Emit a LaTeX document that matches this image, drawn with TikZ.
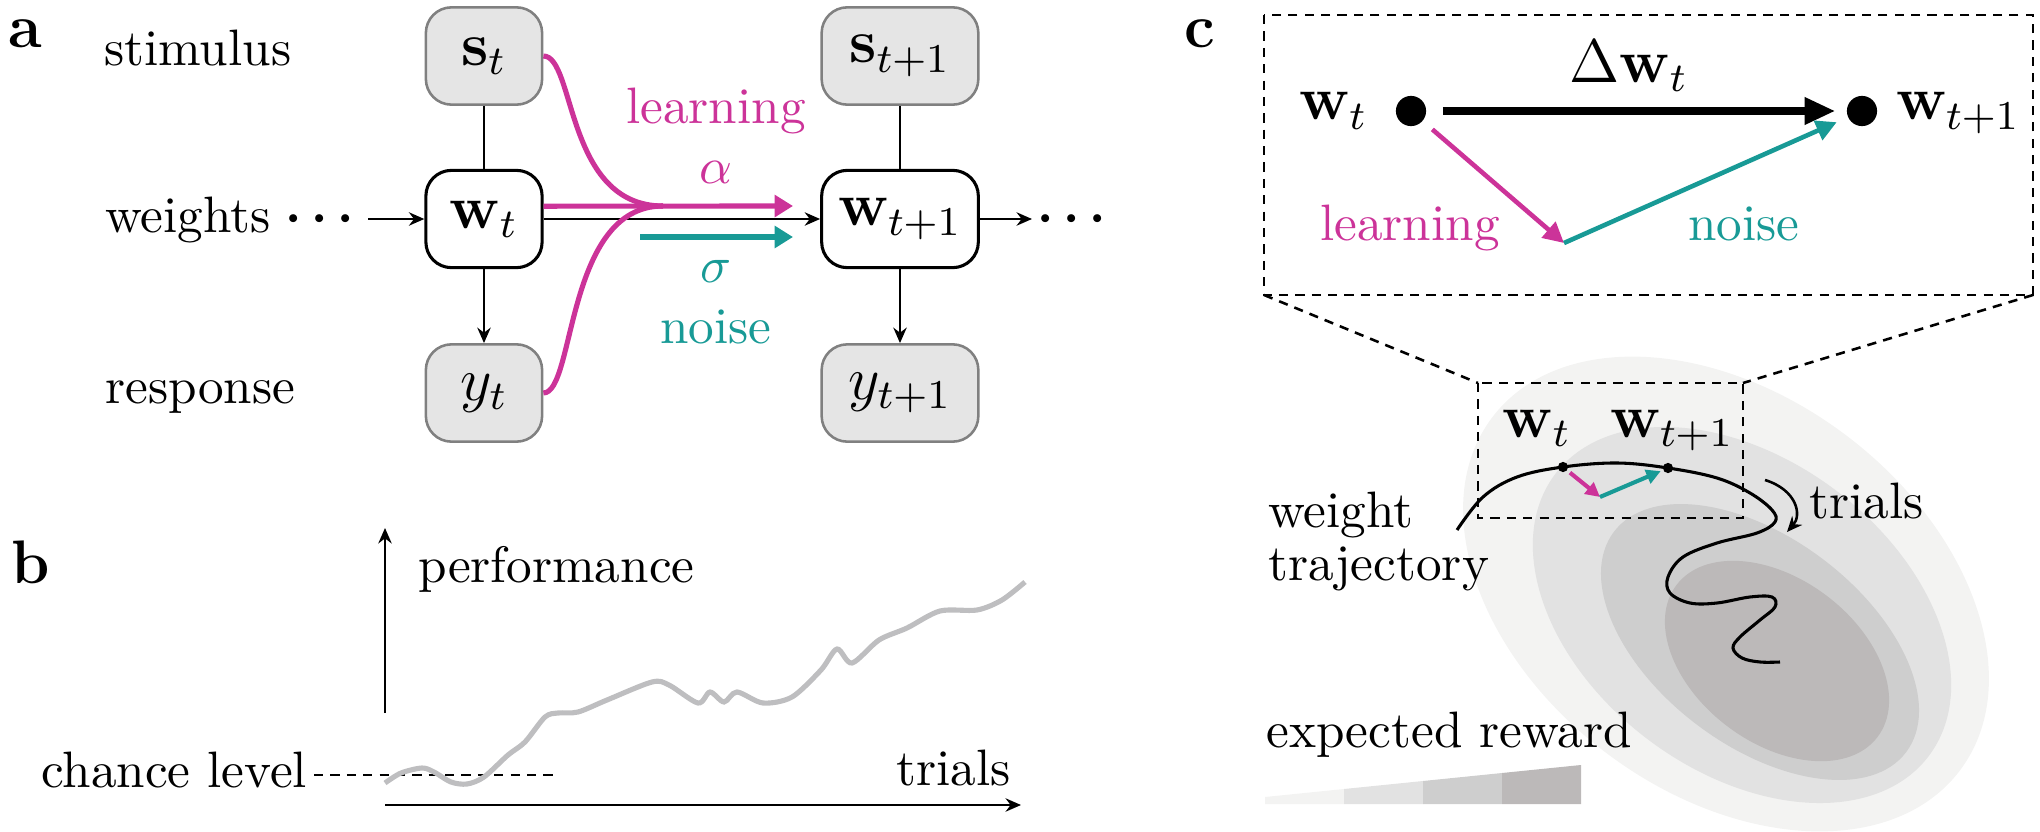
\documentclass[tikz,border=0pt]{standalone}
\usetikzlibrary{arrows.meta,positioning}

\definecolor{learnpink}{RGB}{204,51,153}
\definecolor{noiseteal}{RGB}{24,154,150}
\definecolor{rewardA}{RGB}{243,243,242}
\definecolor{rewardB}{RGB}{226,226,226}
\definecolor{rewardC}{RGB}{206,206,206}
\definecolor{rewardD}{RGB}{188,185,185}
\definecolor{perfgray}{RGB}{190,190,192}

\tikzset{
  panel/.style={font=\large\bfseries, anchor=base west, inner sep=0pt},
  txt/.style={anchor=base west, inner sep=0pt},
  obsbox/.style={draw=black!50, fill=black!10, rounded corners=5pt, minimum height=19pt, inner sep=0pt, font=\large},
  wbox/.style={obsbox, draw=black, fill=white, line width=0.6pt},
  learnline/.style={draw=learnpink, line width=1pt},
  learnarrow/.style={learnline, -{Triangle[length=3.6pt,width=4.2pt]}},
  noisearrow/.style={draw=noiseteal, line width=1pt, -{Triangle[length=3.6pt,width=4.2pt]}},
  boxline/.style={dash pattern=on 1.8pt off 1.4pt, line width=0.5pt},
  bigdot/.style={circle, fill=black, minimum size=5.9pt, inner sep=0pt},
  smalldot/.style={circle, fill=black, minimum size=2pt, inner sep=0pt},
  dotsnode/.style={font=\boldmath},
}

\begin{document}
\begin{tikzpicture}[x=0.1953pt, y=-0.1953pt, line width=0.5pt, >={Stealth[length=3pt,width=2.6pt]}]
    \useasboundingbox (0,0) rectangle (2040,832);

    % a: model
    \node[panel] (la) at (7,47) {a};
    \node[txt] (stim) at (103,65) {stimulus};
    \node[txt] (wlab) at (104,232) {weights};
    \node[dotsnode] (ldots) at (320,219) {$\cdots$};
    \node[txt] (resp) at (104,403) {response};

    \node[obsbox, minimum width=22.7pt] (st) at (484,56) {$\mathbf{s}_t$};
    \node[wbox, minimum width=22.7pt] (wt) at (484,219) {$\mathbf{w}_t$};
    \node[obsbox, minimum width=22.7pt] (yt) at (484,393) {$y_t$};
    \node[obsbox, minimum width=30.6pt] (st1) at (900,56) {$\mathbf{s}_{t+1}$};
    \node[wbox, minimum width=30.6pt] (wt1) at (900,219) {$\mathbf{w}_{t+1}$};
    \node[obsbox, minimum width=30.6pt] (yt1) at (900,393) {$y_{t+1}$};
    \node[dotsnode] (rdots) at (1072,219) {$\cdots$};

    \coordinate (win) at (368,219);
    \coordinate (wout) at (1032,219);
    \draw[->] (win) -- (wt);
    \draw (st) -- (wt);
    \draw[->] (wt) -- (yt);
    \draw (st1) -- (wt1);
    \draw[->] (wt1) -- (yt1);
    \draw[->] (wt) -- (wt1);
    \draw[->] (wt1) -- (wout);

    \coordinate (merge) at (663,206);
    \coordinate (lend) at (793,206);
    \coordinate (nstart) at (640,237);
    \coordinate (nend) at (793,237);
    \draw[learnline] (st.east) .. controls +(32,0) and (565,206) .. (merge);
    \draw[learnline] (yt.east) .. controls +(32,0) and (565,206) .. (merge);
    \draw[learnarrow] ([yshift=2.5pt]wt.east) -- (lend);
    \draw[noisearrow] (nstart) -- (nend);
    \node[text=learnpink, anchor=base] (llearn) at (716,123) {learning};
    \node[text=learnpink] (lalpha) at (716,172) {$\alpha$};
    \node[text=noiseteal] (lsigma) at (716,271) {$\sigma$};
    \node[text=noiseteal, anchor=base] (lnoise) at (716,343) {noise};

    % b: performance
    \node[panel] (lb) at (10,583) {b};
    \coordinate (ylo) at (385,713);
    \coordinate (yhi) at (385,528);
    \coordinate (xlo) at (385,805);
    \coordinate (xhi) at (1021,805);
    \draw[->] (ylo) -- (yhi);
    \draw[->] (xlo) -- (xhi);
    \node[txt] (perf) at (417,582) {performance};
    \node[txt] (trialsb) at (895,785) {trials};
    \node[txt] (chance) at (40,787) {chance level};
    \coordinate (chlo) at (314,775);
    \coordinate (chhi) at (554,775);
    \draw[boxline] (chlo) -- (chhi);
    \draw[perfgray, line width=1pt] plot[smooth, tension=0.5] coordinates {
      (385,783) (401,773) (422,768) (434,772) (451,782) (467,784) (484,777)
      (508,755) (525,742) (545,717) (558,713) (578,712) (607,700) (652,682)
      (669,685) (698,703) (710,692) (724,702) (737,692) (763,703) (792,697)
      (821,670) (837,649) (852,663) (879,640) (907,628) (940,611) (977,610)
      (1002,600) (1025,582)};

    % c: weight space
    \fill[rewardA, rotate around={-37:(1726,594)}] (1726,594) ellipse [x radius=293, y radius=199];
    \fill[rewardB, rotate around={-37:(1742,615)}] (1742,615) ellipse [x radius=234, y radius=156];
    \fill[rewardC, rotate around={-37:(1760,642)}] (1760,642) ellipse [x radius=183, y radius=104];
    \fill[rewardD, rotate around={-37:(1777,661)}] (1777,661) ellipse [x radius=126, y radius=82];

    \node[panel] (lc) at (1183,47) {c};
    \coordinate (bignw) at (1264,15);
    \coordinate (bigsw) at (1264,295);
    \coordinate (bigse) at (2033,295);
    \coordinate (smallnw) at (1478,383);
    \coordinate (smallne) at (1743,383);
    \coordinate (smallse) at (1743,518);
    \draw[boxline] (bignw) rectangle (bigse);
    \draw[boxline] (smallnw) rectangle (smallse);
    \draw[boxline] (bigsw) -- (smallnw);
    \draw[boxline] (bigse) -- (smallne);

    \node[bigdot] (wa) at (1411,111) {};
    \node[bigdot] (wb) at (1862,111) {};
    \coordinate (kink) at (1564,243);
    \draw[line width=1.6pt, -{Triangle[length=6pt,width=5pt]}, shorten <=3pt, shorten >=2pt] (wa) -- (wb);
    \draw[draw=learnpink, line width=0.9pt, -{Triangle[length=4pt,width=4pt]}, shorten <=2.3pt] (wa) -- (kink);
    \draw[draw=noiseteal, line width=0.9pt, -{Triangle[length=4pt,width=4pt]}, shorten >=2.2pt] (kink) -- (wb);
    \node[font=\large, anchor=base east, inner sep=0pt] (lwa) at (1369,120) {$\mathbf{w}_t$};
    \node[font=\large, anchor=base west, inner sep=0pt] (lwb) at (1895,120) {$\mathbf{w}_{t+1}$};
    \node[font=\large, anchor=base] (dw) at (1629,82) {$\Delta\mathbf{w}_t$};
    \node[text=learnpink, anchor=base] (clearn) at (1410,240) {learning};
    \node[text=noiseteal, anchor=base] (cnoise) at (1744,240) {noise};

    \draw[line width=0.6pt] plot[smooth, tension=0.6] coordinates {
      (1457,530) (1483,497) (1517,477) (1563,467) (1617,463) (1668,468)
      (1717,478) (1750,493) (1772,510) (1775,522) (1757,533) (1717,543)
      (1683,557) (1668,577) (1670,593) (1690,603) (1717,603) (1750,597)
      (1772,597) (1775,607) (1760,620) (1740,637) (1733,648) (1742,658)
      (1760,662) (1780,662)};
    \node[smalldot] (ta) at (1563,467) {};
    \node[smalldot] (tb) at (1668,468) {};
    \coordinate (tk) at (1600,497);
    \draw[draw=learnpink, line width=0.8pt, -{Triangle[length=2.8pt,width=2.8pt]}, shorten <=0.5pt] (ta) -- (tk);
    \draw[draw=noiseteal, line width=0.8pt, -{Triangle[length=2.8pt,width=2.8pt]}, shorten >=0.3pt] (tk) -- (tb);
    \node[font=\large, anchor=base] (lta) at (1537,437) {$\mathbf{w}_t$};
    \node[font=\large, anchor=base] (ltb) at (1672,437) {$\mathbf{w}_{t+1}$};

    \coordinate (tra) at (1765,480);
    \coordinate (trb) at (1787,532);
    \draw[->] (tra) .. controls (1797,490) and (1802,515) .. (trb);
    \node[txt] (trialsc) at (1808,518) {trials};
    \node[txt] (weightl) at (1267,527) {weight};
    \node[txt] (trajl) at (1267,580) {trajectory};

    \node[txt] (expr) at (1265,747) {expected reward};
    \foreach \i/\c in {0/rewardA,1/rewardB,2/rewardC,3/rewardD}
      \fill[\c] (1265+79*\i,804) -- (1265+79*\i,797-8*\i) -- (1344+79*\i,789-8*\i) -- (1344+79*\i,804) -- cycle;
\end{tikzpicture}
\end{document}
